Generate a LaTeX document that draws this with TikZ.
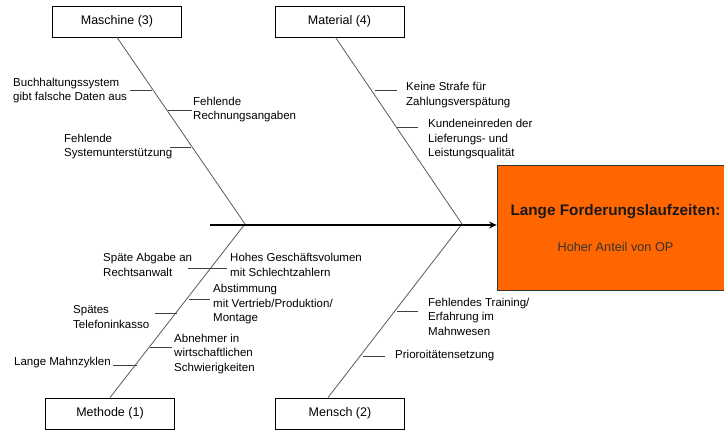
\documentclass[tikz,border=0pt]{standalone}
\usepackage{fontspec}
\setmainfont{Liberation Sans}
\usetikzlibrary{arrows.meta,calc}
\definecolor{orng}{RGB}{255,102,0}
\begin{document}
\begin{tikzpicture}[x=1pt,y=-1pt,
 cat/.style={draw=black, line width=0.8pt, fill=white, minimum width=129pt, minimum height=31pt, inner sep=0pt, font=\fontsize{12.5}{15}\selectfont},
 lbl/.style={anchor=west, align=left, inner sep=0pt, font=\fontsize{11.5}{14.5}\selectfont},
 bone/.style={draw=black!65, line width=0.8pt},
 twig/.style={draw=black!75, line width=0.8pt},
 spine/.style={draw=black, line width=2pt, -{Stealth[length=7.5pt,width=7pt]}}
]
\useasboundingbox (0,0) rectangle (724,430);

% category boxes
\node[cat] (mas) at (117,21.5) {Maschine (3)};
\node[cat] (mat) at (339.5,21.5) {Material (4)};
\node[cat] (met) at (110,413.5) {Methode (1)};
\node[cat] (men) at (340,413.5) {Mensch (2)};

% effect box
\node[draw=black!80, line width=0.8pt, fill=orng, minimum width=237pt, minimum height=125pt, inner sep=0pt] (ob) at (615.5,227.5) {};
\node[inner sep=0pt, font=\fontsize{15.3}{18}\selectfont\bfseries, text=black!90] (t1) at ($(ob.center)+(0,-15.5)$) {Lange Forderungslaufzeiten:};
\node[inner sep=0pt, font=\fontsize{12.7}{15}\selectfont, text=black!80] (t2) at ($(ob.center)+(0,19.5)$) {Hoher Anteil von OP};

% junctions and spine
\coordinate (j1) at (245,224);
\coordinate (j2) at (462,224);
\coordinate (s0) at (210,225);
\draw[bone] (mas.south) -- (j1);
\draw[bone] ($(mat.south)+(-4,0)$) -- (j2);
\draw[bone] (met.north) -- (j1);
\draw[bone] ($(men.north)+(-12,0)$) -- (j2);
\draw[spine] (s0) -- (ob.west |- s0);

% Maschine causes
\node[lbl] (c1) at (13,90.5) {Buchhaltungssystem\\gibt falsche Daten aus};
\draw[twig] (130,90) -- (152,90);
\node[lbl] (c2) at (193,109.5) {Fehlende\\Rechnungsangaben};
\draw[twig] (168,110) -- (192,110);
\node[lbl] (c3) at (64,146.5) {Fehlende\\Systemunterstützung};
\draw[twig] (170,147) -- (191,147);

% Material causes
\node[lbl] (c4) at (406,95) {Keine Strafe für\\Zahlungsverspätung};
\draw[twig] (375,90) -- (397,90);
\node[lbl] (c5) at (428,139.5) {Kundeneinreden der\\Lieferungs- und\\Leistungsqualität};
\draw[twig] (397,127) -- (418,127);

% Methode causes
\node[lbl] (c6) at (103,265) {Späte Abgabe an\\Rechtsanwalt};
\node[lbl] (c7) at (230,265) {Hohes Geschäftsvolumen\\mit Schlechtzahlern};
\draw[twig] (188,268) -- (227,268);
\node[lbl] (c8) at (213,304.5) {Abstimmung\\mit Vertrieb/Produktion/\\Montage};
\draw[twig] (189,299) -- (210,299);
\node[lbl] (c9) at (73,317) {Spätes\\Telefoninkasso};
\draw[twig] (155,313) -- (177,313);
\node[lbl] (c10) at (174,354) {Abnehmer in\\wirtschaftlichen\\Schwierigkeiten};
\draw[twig] (150,347) -- (172,347);
\node[lbl] (c11) at (14,363) {Lange Mahnzyklen};
\draw[twig] (113,365) -- (137,365);

% Mensch causes
\node[lbl] (c12) at (428,316.5) {Fehlendes Training/\\Erfahrung im\\Mahnwesen};
\draw[twig] (397,311) -- (418,311);
\node[lbl] (c13) at (395,356) {Prioroitätensetzung};
\draw[twig] (363,356) -- (385,356);
\end{tikzpicture}
\end{document}
